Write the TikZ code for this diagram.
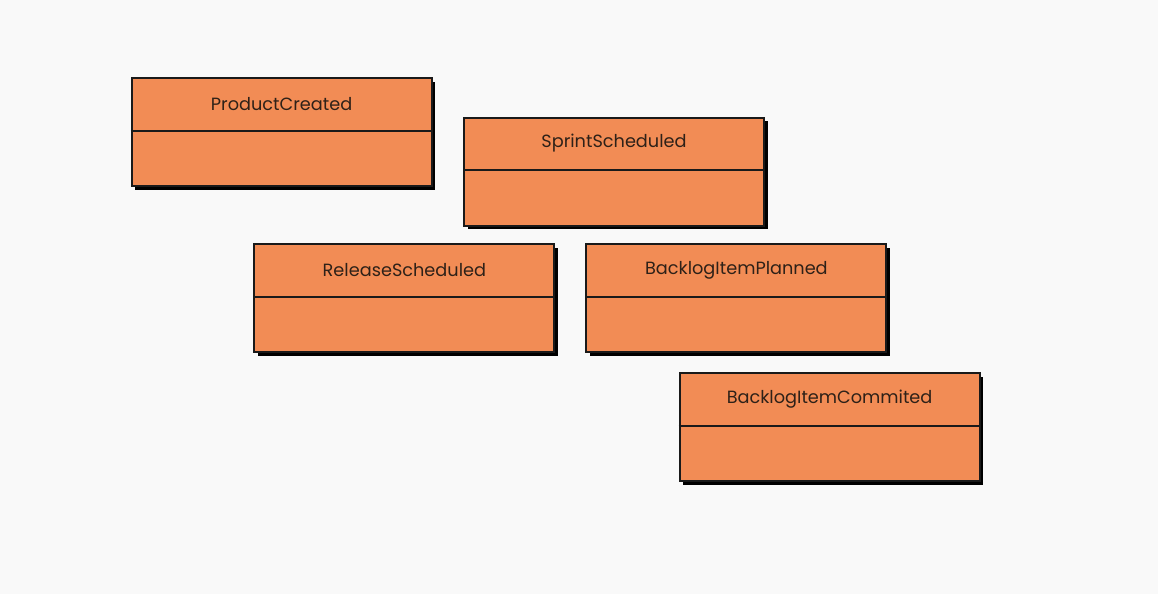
\documentclass[tikz,border=0pt]{standalone}
\usepackage{fontspec}
\setsansfont{Poppins}
\usetikzlibrary{positioning,shadows}
\definecolor{evOrange}{HTML}{F28C55}
\definecolor{evInk}{HTML}{1A1A1A}
\definecolor{evText}{HTML}{2E2118}
\definecolor{evPaper}{HTML}{F9F9F9}

\begin{document}
\begin{tikzpicture}[font=\sffamily,
  event/.style={draw=evInk, line width=1.4pt, fill=evOrange, minimum width=7.5cm, minimum height=2.7cm, inner sep=0pt,
    drop shadow={fill=black, opacity=1, shadow xshift=0.09cm, shadow yshift=-0.09cm}},
  evtitle/.style={font=\sffamily\fontsize{12.6}{14}\selectfont, text=evText, minimum height=1.33cm, inner sep=0pt, anchor=north},
  divider/.style={draw=evInk, line width=1.3pt},
]
% ---- canvas ----
\fill[evPaper] (0,0) rectangle (28.95,-14.85);
\useasboundingbox (0,0) rectangle (28.95,-14.85);
% ---- event boxes ----
\node[event] (pc) at (7.04,-3.30){};
\node[event] (ss) at (15.35,-4.29){};
\node[event] (rs) at (10.11,-7.46){};
\node[event] (bp) at (18.41,-7.46){};
\node[event] (bc) at (20.74,-10.68){};
% ---- titles and dividers ----
\foreach \n/\lab in {pc/ProductCreated, ss/SprintScheduled, rs/ReleaseScheduled, bp/BacklogItemPlanned, bc/BacklogItemCommited}{
  \node[evtitle, below=0pt of \n.north] (\n T){\lab};
  \draw[divider] (\n T.south -| \n.west) -- (\n T.south -| \n.east);
}
\end{tikzpicture}
\end{document}
